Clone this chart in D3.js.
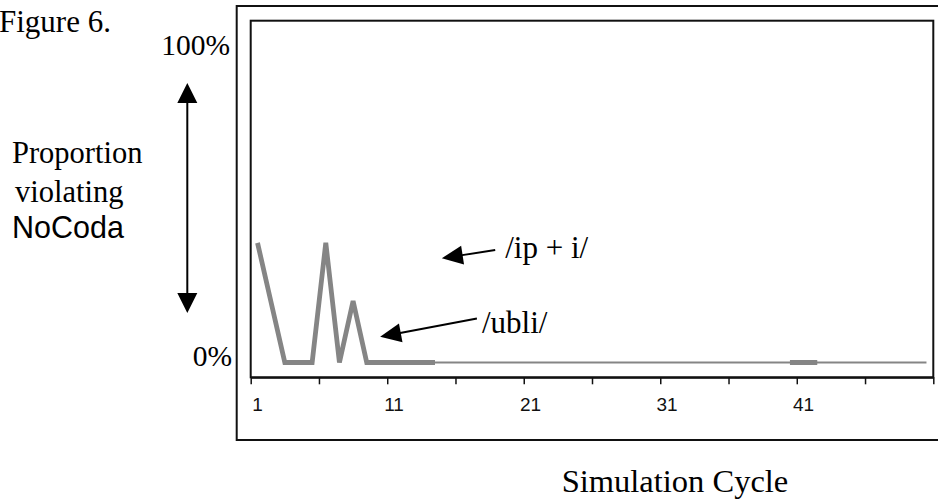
<!DOCTYPE html>
<html><head><meta charset="utf-8">
<script src="https://cdn.jsdelivr.net/npm/d3@7"></script>
<style>body{margin:0;background:#fff}svg{display:block}</style>
</head><body>
<svg id="c" width="938" height="500"></svg>
<script>
// ---- data ----
const categories = [1,2,3,4,5,6,7,8,9,10,11,12,13,14,15,16,17,18,19,20,21,22,23,24,25,26,27,28,29,30,31,32,33,34,35,36,37,38,39,40,41,42,43,44,45,46,47,48,49,50];
const tickLabels = [1,11,21,31,41];
const boundaryTicks = [0.5,5.5,10.5,15.5,20.5,25.5,30.5,35.5,40.5,45.5,50.5];
const N = null;
// thick series
const seriesThick = [0.35,0.175,0,0,0,0.35,0,0.18,0,0,0,0,0,0,
  N,N,N,N,N,N,N,N,N,N,N,N,N,N,N,N,N,N,N,N,N,N,N,N,N,
  0,0,0, N,N,N,N,N,N,N,N];
// thin series
const seriesThin = [N,N,N,N,N,N,N,N,N,N,N,N,N,
  0,0,0,0,0,0,0,0,0,0,0,0,0,0,0,0,0,0,0,0,0,0,0,0,0,0,0,0,0,0,0,0,0,0,0,0,0,0];
// annotations in data units: [tailX, tailY, tipX, tipY]
const annLabels = ["/ip + i/", "/ubli/"];
const annArrows = [[18.41,0.329,14.5,0.305],[17.07,0.129,9.98,0.0755]];
const annTextPos = [[19.14,0.306],[17.44,0.085]];

// ---- drawing ----
const svg = d3.select("#c");
const L = 250.7, R = 933.3, T = 20.7, B = 377.3;
const x = d3.scaleBand().domain(categories).range([L, R]);
const xc = d3.scaleLinear().domain([0.5, 50.5]).range([L, R]);
const y = d3.scaleLinear().domain([-0.0433, 1]).range([B, T]);
const serif = "'Liberation Serif', 'Times New Roman', serif";
const sans = "'Liberation Sans', Arial, sans-serif";

// outer frame
svg.append("rect").attr("x",236.7).attr("y",6).attr("width",710).attr("height",434)
  .attr("fill","none").attr("stroke","#111").attr("stroke-width",2);
// plot area
svg.append("rect").attr("x",L).attr("y",T).attr("width",R-L).attr("height",B-T)
  .attr("fill","none").attr("stroke","#111").attr("stroke-width",2);

// x axis ticks
const gx = svg.append("g").attr("transform",`translate(0,${B})`)
  .call(d3.axisBottom(xc).tickValues(boundaryTicks).tickFormat("").tickSize(7).tickSizeOuter(0));
gx.select(".domain").attr("stroke","#111").attr("stroke-width",2);
gx.selectAll(".tick line").attr("stroke","#111").attr("stroke-width",1.5);
const gl = svg.append("g").attr("transform",`translate(0,${B})`)
  .call(d3.axisBottom(x).tickValues(tickLabels).tickSize(0).tickPadding(20));
gl.attr("font-size",null).attr("font-family",null);
gl.select(".domain").remove();
gl.selectAll("text").style("font-family",sans).style("font-size","19px").attr("fill","#111");

// lines
const line = d3.line().defined(d => d != null)
  .x((d,i) => x(categories[i]) + x.bandwidth()/2).y(d => y(d));
svg.append("path").datum(seriesThin).attr("d",line).attr("fill","none")
  .attr("stroke","#858585").attr("stroke-width",2.2);
svg.append("path").datum(seriesThick).attr("d",line).attr("fill","none")
  .attr("stroke","#858585").attr("stroke-width",4.8).attr("stroke-linejoin","miter");

// arrow helper
function arrow(x1,y1,x2,y2,len,w){
  const dx=x2-x1, dy=y2-y1, d=Math.hypot(dx,dy), ux=dx/d, uy=dy/d;
  const bx=x2-ux*len, by=y2-uy*len;
  svg.append("line").attr("x1",x1).attr("y1",y1).attr("x2",bx+ux*2).attr("y2",by+uy*2)
    .attr("stroke","#000").attr("stroke-width",2);
  svg.append("polygon").attr("points",
    `${x2},${y2} ${bx-uy*w/2},${by+ux*w/2} ${bx+uy*w/2},${by-ux*w/2}`).attr("fill","#000");
}
annArrows.forEach(a => arrow(xc(a[0]),y(a[1]),xc(a[2]),y(a[3]),21,19));
annLabels.forEach((t,i) => svg.append("text").attr("x",xc(annTextPos[i][0])).attr("y",y(annTextPos[i][1]))
  .attr("font-family",serif).attr("font-size",31).attr("fill","#000").text(t));

// vertical double arrow
arrow(187.3,200,187.3,83,20,20);
arrow(187.3,200,187.3,313,20,20);

// texts
const txt = (s,xx,yy,f,size,anchor) => svg.append("text").attr("x",xx).attr("y",yy)
  .attr("font-family",f).attr("font-size",size).attr("text-anchor",anchor||"start").attr("fill","#000").text(s);
txt("Figure 6.",-1,31.5,serif,31);
txt("100%",230,55,serif,29.5,"end");
txt("0%",232,366,serif,29.5,"end");
txt("Proportion",12,163,serif,30.5);
txt("violating",15,201.5,serif,30.5);
txt("NoCoda",12,238,sans,30.5);
txt("Simulation Cycle",675,492,serif,32.5,"middle");
</script>
</body></html>
